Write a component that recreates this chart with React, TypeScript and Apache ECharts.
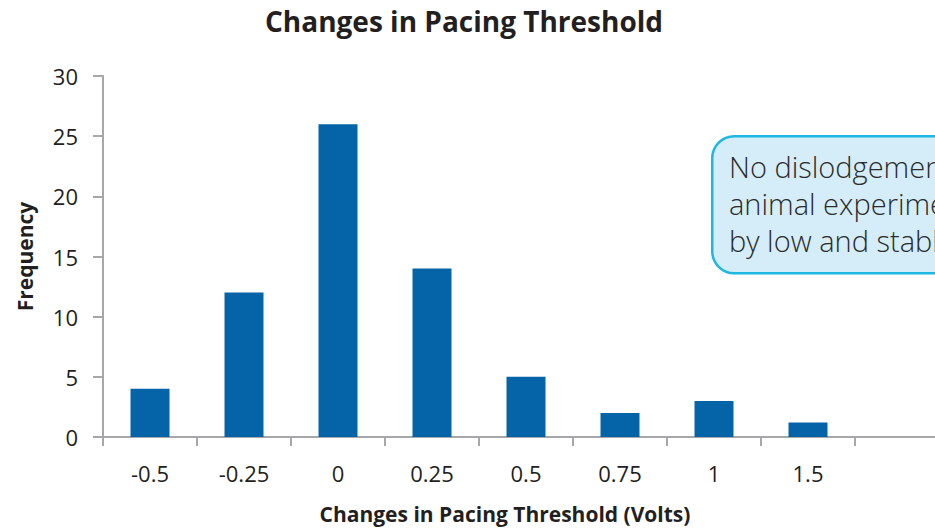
import React, { useEffect, useRef } from "react";
import * as echarts from "echarts";

const categories = ["-0.5", "-0.25", "0", "0.25", "0.5", "0.75", "1", "1.5", ""];
const frequency = [4, 12, 26, 14, 5, 2, 3, 1.2, null];
const yTicks = { min: 0, max: 30, interval: 5 };
const noteLines = ["No dislodgement in", "animal experiments, shown", "by low and stable thresholds"];

export default function App() {
  const ref = useRef<HTMLDivElement>(null);
  useEffect(() => {
    if (!ref.current) return;
    const chart = echarts.init(ref.current, undefined, { renderer: "svg" });
    const font = "'Open Sans', 'Noto Sans', sans-serif";
    const axisColor = "#a7a7a9";
    chart.setOption({
      animation: false,
      backgroundColor: "#ffffff",
      textStyle: { fontFamily: font },
      title: {
        text: "Changes in Pacing Threshold",
        left: 459,
        textAlign: "center",
        top: 2,
        textStyle: { fontSize: 28, fontWeight: "bold", color: "#231f20", fontFamily: font },
      },
      grid: { left: 103, top: 76, width: 846, height: 362, containLabel: false },
      xAxis: {
        type: "category",
        data: categories,
        name: "Changes in Pacing Threshold (Volts)",
        nameLocation: "middle",
        nameGap: 66,
        nameTextStyle: { fontSize: 21, fontWeight: "bold", color: "#231f20", padding: [0, 42, 0, 0] },
        axisLine: { show: true, lineStyle: { color: axisColor, width: 2 } },
        axisTick: { show: true, length: 9, lineStyle: { color: axisColor, width: 2 } },
        axisLabel: { fontSize: 22, color: "#231f20", margin: 25 },
        splitLine: { show: false },
      },
      yAxis: {
        type: "value",
        min: yTicks.min,
        max: yTicks.max,
        interval: yTicks.interval,
        name: "Frequency",
        nameLocation: "middle",
        nameGap: 68,
        nameRotate: 90,
        nameTextStyle: { fontSize: 21, fontWeight: "bold", color: "#231f20" },
        axisLine: { show: true, lineStyle: { color: axisColor, width: 2 } },
        axisTick: { show: true, length: 10, lineStyle: { color: axisColor, width: 2 } },
        axisLabel: { fontSize: 22, color: "#231f20", margin: 25 },
        splitLine: { show: false },
      },
      series: [
        {
          type: "bar",
          data: frequency,
          barWidth: 39,
          itemStyle: { color: "#0564a8" },
        },
      ],
      graphic: [
        {
          type: "rect",
          left: 711,
          top: 135,
          shape: { width: 300, height: 137, r: 22 },
          style: { fill: "#d5edf8", stroke: "#1db8e2", lineWidth: 2.5 },
          z: 10,
        },
        {
          type: "text",
          left: 729,
          top: 148,
          style: {
            text: noteLines.join("\n"),
            font: `300 29px ${font}`,
            fill: "#2b2b2b",
            lineHeight: 37,
          },
          z: 11,
        },
      ],
    });
    return () => chart.dispose();
  }, []);
  return (
    <div style={{ position: "fixed", left: 0, top: 0, width: 935, height: 529, overflow: "hidden" }}>
      <div ref={ref} style={{ width: 960, height: 529 }} />
    </div>
  );
}
